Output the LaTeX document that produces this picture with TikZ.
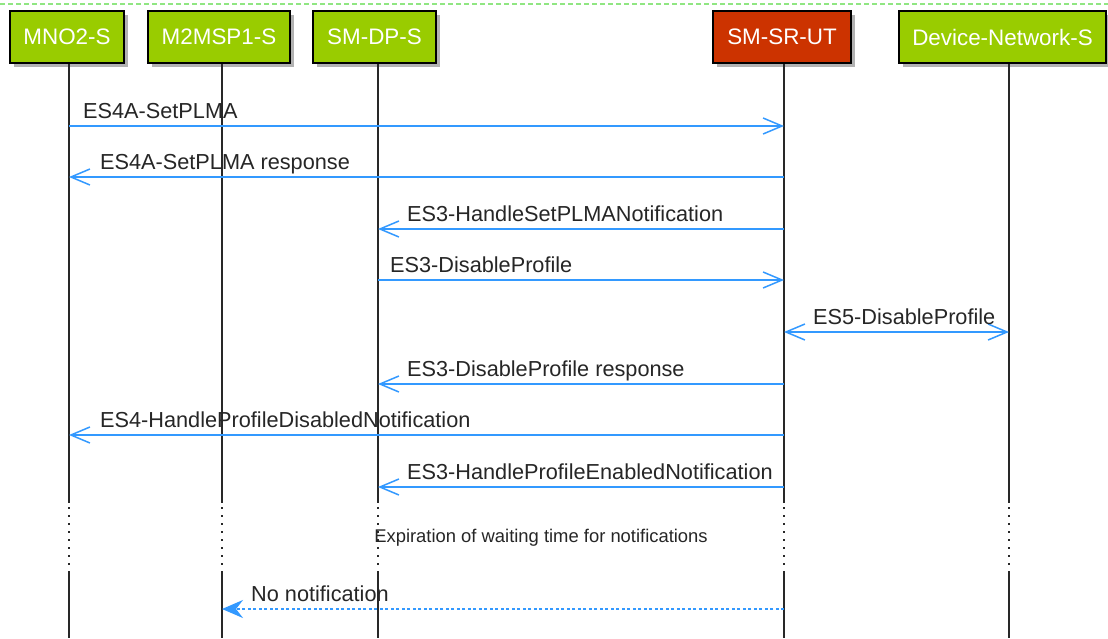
\documentclass[tikz,border=0pt]{standalone}
\usepackage{fontspec}
\setmainfont{Liberation Sans}
\usetikzlibrary{arrows.meta}
\definecolor{boxgreen}{RGB}{153,204,0}
\definecolor{boxred}{RGB}{204,51,0}
\definecolor{msgblue}{RGB}{51,153,255}
\definecolor{framegreen}{RGB}{144,230,130}
\definecolor{lifegray}{RGB}{40,40,40}
\tikzset{
  actor/.style={draw=black, line width=1.8pt, minimum height=52pt, inner sep=0pt,
    text=white, font=\fontsize{22.4}{26}\selectfont},
  shadowbox/.style={fill=black!30, draw=none},
  lifeline/.style={draw=lifegray, line width=1.5pt},
  lifedots/.style={draw=lifegray, line width=1.5pt, dash pattern=on 1.5pt off 6.5pt},
  msg/.style={draw=msgblue, line width=1.5pt, -{Straight Barb[length=19pt,width=16pt]}},
  dmsg/.style={draw=msgblue, line width=1.5pt, {Straight Barb[length=19pt,width=16pt]}-{Straight Barb[length=19pt,width=16pt]}},
  retmsg/.style={draw=msgblue, line width=1.5pt, dash pattern=on 3pt off 2.5pt,
    -{Stealth[length=21pt,width=18pt,inset=7pt]}},
  lbl/.style={anchor=base west, inner sep=0pt, text=black!85, font=\fontsize{21.7}{26}\selectfont},
  note/.style={inner sep=0pt, text=black!85, font=\fontsize{18.4}{22}\selectfont},
}
\begin{document}
\begin{tikzpicture}[x=1pt,y=-1pt]
\useasboundingbox (0,0) rectangle (1108,638);
\fill[white] (0,0) rectangle (1108,638);
% top frame line
\draw[framegreen, line width=1.2pt, dash pattern=on 5pt off 3pt] (0,4) -- (1108,4);

% shadows
\fill[shadowbox] (14,15) rectangle (128,67);
\fill[shadowbox] (152,15) rectangle (294,67);
\fill[shadowbox] (317,15) rectangle (440,67);
\fill[shadowbox] (717,15) rectangle (855,67);
\fill[shadowbox] (903,15) rectangle (1110,67);

% actors
\node[actor, fill=boxgreen, minimum width=114pt] (mno) at (67,37) {MNO2-S};
\node[actor, fill=boxgreen, minimum width=142pt] (m2m) at (219,37) {M2MSP1-S};
\node[actor, fill=boxgreen, minimum width=123pt] (dp) at (374.5,37) {SM-DP-S};
\node[actor, fill=boxred, minimum width=138pt] (sr) at (782,37) {SM-SR-UT};
\node[actor, fill=boxgreen, minimum width=207pt] (dev) at (1002.5,37) {Device-Network-S};

% lifelines
\foreach \n/\x in {L1/69, L2/222, L3/378, L4/784, L5/1009}{
  \coordinate (\n top) at (\x,64);
  \coordinate (\n a) at (\x,503);
  \coordinate (\n b) at (\x,572);
  \coordinate (\n bot) at (\x,638);
  \draw[lifeline] (\n top) -- (\n a);
  \draw[lifedots] (\x,507) -- (\n b);
  \draw[lifeline] (\n b) -- (\n bot);
}

% message end points
\coordinate (m1a) at (69,126);   \coordinate (m1b) at (784,126);
\coordinate (m2a) at (784,177);  \coordinate (m2b) at (69,177);
\coordinate (m3a) at (784,229);  \coordinate (m3b) at (378,229);
\coordinate (m4a) at (378,280);  \coordinate (m4b) at (784,280);
\coordinate (m5a) at (784,332);  \coordinate (m5b) at (1009,332);
\coordinate (m6a) at (784,384);  \coordinate (m6b) at (378,384);
\coordinate (m7a) at (784,435);  \coordinate (m7b) at (69,435);
\coordinate (m8a) at (784,487);  \coordinate (m8b) at (378,487);
\coordinate (m9a) at (784,609);  \coordinate (m9b) at (222,609);

\draw[msg] (m1a) -- (m1b);
\node[lbl] (t1) at (83,118) {ES4A-SetPLMA};
\draw[msg] (m2a) -- (m2b);
\node[lbl] (t2) at (100,169) {ES4A-SetPLMA response};
\draw[msg] (m3a) -- (m3b);
\node[lbl] (t3) at (407,221) {ES3-HandleSetPLMANotification};
\draw[msg] (m4a) -- (m4b);
\node[lbl] (t4) at (390,272) {ES3-DisableProfile};
\draw[dmsg] (m5a) -- (m5b);
\node[lbl] (t5) at (813,324) {ES5-DisableProfile};
\draw[msg] (m6a) -- (m6b);
\node[lbl] (t6) at (407,376) {ES3-DisableProfile response};
\draw[msg] (m7a) -- (m7b);
\node[lbl] (t7) at (100,427) {ES4-HandleProfileDisabledNotification};
\draw[msg] (m8a) -- (m8b);
\node[lbl] (t8) at (407,479) {ES3-HandleProfileEnabledNotification};

\node[note] (exp) at (541,538) {Expiration of waiting time for notifications};

\draw[retmsg] (m9a) -- (m9b);
\node[lbl] (t9) at (251,601) {No notification};
\end{tikzpicture}
\end{document}
